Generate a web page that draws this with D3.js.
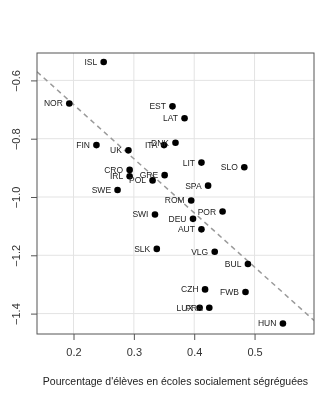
<!DOCTYPE html>
<html>
<head>
<meta charset="utf-8">
<script src="https://cdn.jsdelivr.net/npm/d3@7"></script>
<style>
  body { margin: 0; background: #fff; }
  text { font-family: "Liberation Sans", Arial, sans-serif; }
  svg { will-change: transform; }
</style>
</head>
<body>
<div id="chart"></div>
<script>
/* -------------------------------------------------------------------------- */
// data
const countries = ['ISL', 'NOR', 'EST', 'LAT', 'FIN', 'UK', 'ITA', 'DNK', 'CRO', 'IRL',
  'POL', 'GRE', 'SWE', 'LIT', 'SLO', 'SPA', 'ROM', 'POR', 'DEU', 'AUT',
  'SWI', 'SLK', 'VLG', 'BUL', 'CZH', 'FWB', 'LUX', 'FRA', 'HUN'];
const segregated = [0.250, 0.193, 0.364, 0.384, 0.238, 0.291, 0.350, 0.369, 0.293, 0.293,
  0.331, 0.351, 0.273, 0.412, 0.483, 0.423, 0.395, 0.447, 0.398, 0.412,
  0.335, 0.338, 0.434, 0.489, 0.418, 0.485, 0.409, 0.425, 0.547];
const scores = [-0.537, -0.679, -0.689, -0.730, -0.822, -0.840, -0.822, -0.814, -0.907, -0.929,
  -0.943, -0.925, -0.976, -0.882, -0.898, -0.961, -1.012, -1.050, -1.075, -1.111,
  -1.060, -1.178, -1.188, -1.230, -1.317, -1.326, -1.380, -1.380, -1.434];

const xTicks = [0.2, 0.3, 0.4, 0.5];
const yTicks = [-0.6, -0.8, -1.0, -1.2, -1.4];
const fit = [-0.311, -1.859]; // intercept, slope of the dashed line

const xTitle = "Pourcentage d'élèves en écoles socialement ségréguées";

/* -------------------------------------------------------------------------- */
const W = 324, H = 400;
const margin = {top: 53, right: 10, bottom: 66, left: 37};

const svg = d3.select('#chart').append('svg')
  .attr('width', W).attr('height', H);

const x = d3.scaleLinear().domain([0.1395, 0.5985]).range([margin.left, W - margin.right]);
const y = d3.scaleLinear().domain([-0.506, -1.47]).range([margin.top, H - margin.bottom]);

const [x0, x1] = x.range();
const [y0, y1] = y.range();

svg.append('clipPath').attr('id', 'plotclip')
  .append('rect').attr('x', x0).attr('y', y0).attr('width', x1 - x0).attr('height', y1 - y0);

// grid
const grid = svg.append('g').attr('stroke', '#e3e3e3').attr('stroke-width', 1);
grid.selectAll('.gx').data(xTicks).enter().append('line')
  .attr('x1', d => x(d)).attr('x2', d => x(d)).attr('y1', y0).attr('y2', y1);
grid.selectAll('.gy').data(yTicks).enter().append('line')
  .attr('y1', d => y(d)).attr('y2', d => y(d)).attr('x1', x0).attr('x2', x1);

// dashed fit line
const fx = x.domain();
svg.append('line')
  .attr('clip-path', 'url(#plotclip)')
  .attr('x1', x(fx[0])).attr('y1', y(fit[0] + fit[1] * fx[0]))
  .attr('x2', x(fx[1])).attr('y2', y(fit[0] + fit[1] * fx[1]))
  .attr('stroke', '#9a9a9a').attr('stroke-width', 1.5)
  .attr('stroke-dasharray', '5,4');

// axes
const xAxis = svg.append('g').attr('transform', `translate(0,${y1})`)
  .call(d3.axisBottom(x).tickValues(xTicks).tickSize(6).tickPadding(8).tickFormat(d3.format('.1f')));
const yAxis = svg.append('g').attr('transform', `translate(${x0},0)`)
  .call(d3.axisLeft(y).tickValues(yTicks).tickSize(6).tickFormat(d => d3.format('.1f')(d).replace('-', '\u2212')));

[xAxis, yAxis].forEach(a => {
  a.select('.domain').remove();
  a.selectAll('line').attr('stroke', '#555');
  a.selectAll('text').attr('fill', '#333').style('font-size', '11px')
    .style('font-family', '"Liberation Sans", Arial, sans-serif');
});
yAxis.selectAll('text')
  .attr('x', null).attr('dy', null)
  .attr('text-anchor', 'middle')
  .attr('transform', 'translate(-17,0) rotate(-90)');

// box
svg.append('rect')
  .attr('x', x0).attr('y', y0).attr('width', x1 - x0).attr('height', y1 - y0)
  .attr('fill', 'none').attr('stroke', '#555').attr('stroke-width', 1);

// points + labels
const pts = countries.map((c, i) => ({name: c, x: segregated[i], y: scores[i]}));

const g = svg.append('g');
g.selectAll('circle').data(pts).enter().append('circle')
  .attr('cx', d => x(d.x)).attr('cy', d => y(d.y)).attr('r', 3.3)
  .attr('fill', '#000');

g.selectAll('text').data(pts).enter().append('text')
  .attr('x', d => x(d.x) - 6.5).attr('y', d => y(d.y))
  .attr('dy', '0.35em')
  .attr('text-anchor', 'end')
  .style('font-size', '8.5px')
  .attr('fill', '#222')
  .text(d => d.name);

// x title
svg.append('text')
  .attr('x', (x0 + x1) / 2).attr('y', 381).attr('dy', '0.35em')
  .attr('text-anchor', 'middle')
  .style('font-size', '10.5px')
  .attr('fill', '#222')
  .text(xTitle);
</script>
</body>
</html>
